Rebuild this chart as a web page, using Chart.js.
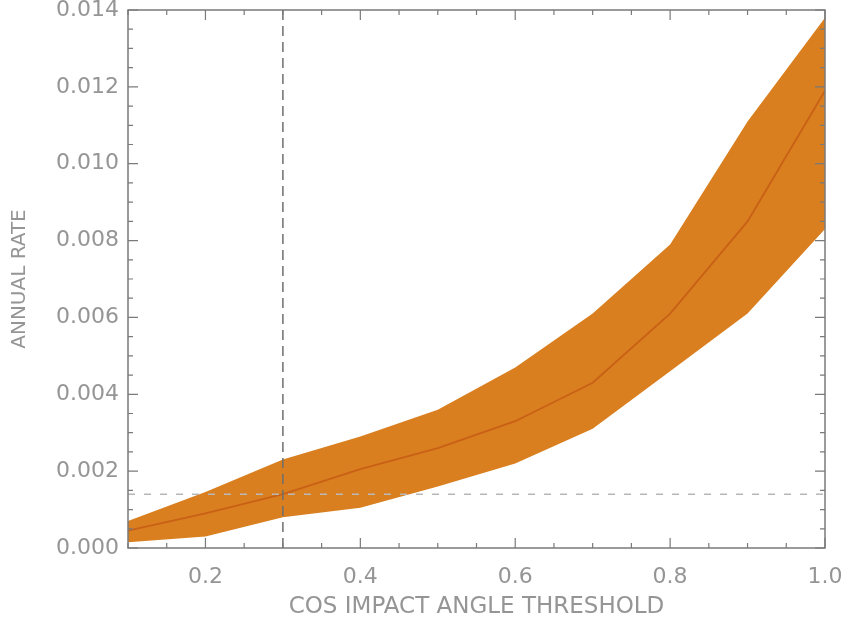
<!DOCTYPE html>
<html>
<head>
<meta charset="utf-8">
<script src="https://cdn.jsdelivr.net/npm/chart.js@4.4.1/dist/chart.umd.min.js"></script>
<style>
  html, body { margin: 0; padding: 0; background: #ffffff; }
  #wrap { width: 846px; height: 621px; position: relative; }
</style>
</head>
<body>
<div id="wrap"><canvas id="rateChart"></canvas></div>
<script>
// values
const cosThreshold = [0.1, 0.2, 0.3, 0.4, 0.5, 0.6, 0.7, 0.8, 0.9, 1.0];
const rateMedian = [0.00045, 0.0009, 0.0014, 0.00205, 0.0026, 0.0033, 0.0043, 0.0061, 0.0085, 0.0119];
const rateUpper = [0.0007, 0.00146, 0.0023, 0.0029, 0.0036, 0.0047, 0.0061, 0.0079, 0.0111, 0.0138];
const rateLower = [0.00015, 0.0003, 0.0008, 0.00105, 0.0016, 0.0022, 0.0031, 0.0046, 0.0061, 0.0083];

const xTickValues = [0.2, 0.4, 0.6, 0.8, 1.0];
const yTickValues = [0.000, 0.002, 0.004, 0.006, 0.008, 0.010, 0.012, 0.014];
const xMinorStep = 0.05;
const yMinorStep = 0.0005;

const markerX = 0.3;
const markerY = 0.0014;

const axisGray = '#7a7a7a';
const textGray = '#959595';

function pts(ys) {
  return cosThreshold.map((x, i) => ({ x: x, y: ys[i] }));
}

// box round the plot with inward ticks on all four sides
const frameTicks = {
  id: 'frameTicks',
  afterDatasetsDraw(chart) {
    const ctx = chart.ctx;
    const a = chart.chartArea;
    const xs = chart.scales.x;
    const ys = chart.scales.y;
    ctx.save();
    ctx.strokeStyle = axisGray;
    ctx.lineWidth = 1.5;
    ctx.strokeRect(a.left, a.top, a.right - a.left, a.bottom - a.top);

    ctx.lineWidth = 1.2;
    ctx.beginPath();
    for (let v = xs.min; v <= xs.max + 1e-9; v += xMinorStep) {
      const px = xs.getPixelForValue(v);
      const major = xTickValues.some(t => Math.abs(t - v) < 1e-6);
      const len = major ? 10 : 5;
      ctx.moveTo(px, a.bottom); ctx.lineTo(px, a.bottom - len);
      ctx.moveTo(px, a.top); ctx.lineTo(px, a.top + len);
    }
    for (let v = ys.min; v <= ys.max + 1e-9; v += yMinorStep) {
      const py = ys.getPixelForValue(v);
      const major = yTickValues.some(t => Math.abs(t - v) < 1e-7);
      const len = major ? 10 : 5;
      ctx.moveTo(a.left, py); ctx.lineTo(a.left + len, py);
      ctx.moveTo(a.right, py); ctx.lineTo(a.right - len, py);
    }
    ctx.stroke();
    ctx.restore();
  }
};

const ctx = document.getElementById('rateChart').getContext('2d');
const rateChart = new Chart(ctx, {
  type: 'line',
  data: {
    datasets: [
      {
        label: 'upper',
        data: pts(rateUpper),
        borderWidth: 0,
        borderColor: 'rgba(0,0,0,0)',
        backgroundColor: '#d97f1f',
        fill: '+1',
        pointRadius: 0,
        order: 3
      },
      {
        label: 'lower',
        data: pts(rateLower),
        borderWidth: 0,
        borderColor: 'rgba(0,0,0,0)',
        fill: false,
        pointRadius: 0,
        order: 3
      },
      {
        label: 'median',
        data: pts(rateMedian),
        borderColor: '#c86016',
        borderWidth: 1.8,
        fill: false,
        pointRadius: 0,
        order: 2
      },
      {
        label: 'threshold',
        data: [{ x: markerX, y: 0 }, { x: markerX, y: 0.014 }],
        borderColor: '#6e6e6e',
        borderWidth: 1.5,
        borderDash: [10, 6],
        fill: false,
        pointRadius: 0,
        order: 1
      },
      {
        label: 'rate level',
        data: [{ x: 0.1, y: markerY }, { x: 1.0, y: markerY }],
        borderColor: '#b8b8b8',
        borderWidth: 1.5,
        borderDash: [7, 9],
        fill: false,
        pointRadius: 0,
        order: 1
      }
    ]
  },
  options: {
    responsive: true,
    maintainAspectRatio: false,
    animation: false,
    layout: { padding: { top: 10, right: 21, bottom: 0, left: 0 } },
    plugins: {
      legend: { display: false },
      tooltip: { enabled: false }
    },
    scales: {
      x: {
        type: 'linear',
        min: 0.1,
        max: 1.0,
        afterBuildTicks: (scale) => { scale.ticks = xTickValues.map(v => ({ value: v })); },
        afterFit: (scale) => {
          scale.height = 73;
          scale.paddingLeft = 0;
          scale.paddingRight = 0;
        },
        grid: { display: false, drawTicks: false },
        border: { display: false },
        ticks: {
          color: textGray,
          font: { family: 'DejaVu Sans', size: 22 },
          padding: 16,
          maxRotation: 0,
          callback: (v) => Number(v).toFixed(1)
        },
        title: {
          display: true,
          text: 'COS IMPACT ANGLE THRESHOLD',
          color: textGray,
          font: { family: 'DejaVu Sans', size: 23 },
          padding: { top: 0, bottom: 0 }
        }
      },
      y: {
        type: 'linear',
        min: 0,
        max: 0.014,
        afterBuildTicks: (scale) => { scale.ticks = yTickValues.map(v => ({ value: v })); },
        afterFit: (scale) => {
          scale.width = 128;
          scale.paddingTop = 0;
          scale.paddingBottom = 0;
        },
        grid: { display: false, drawTicks: false },
        border: { display: false },
        ticks: {
          color: textGray,
          font: { family: 'DejaVu Sans', size: 22 },
          padding: 9,
          callback: (v) => Number(v).toFixed(3)
        },
        title: {
          display: true,
          text: 'ANNUAL RATE',
          color: textGray,
          font: { family: 'DejaVu Sans', size: 20 },
          padding: { top: 8, bottom: 0 }
        }
      }
    }
  },
  plugins: [frameTicks]
});
</script>
</body>
</html>
